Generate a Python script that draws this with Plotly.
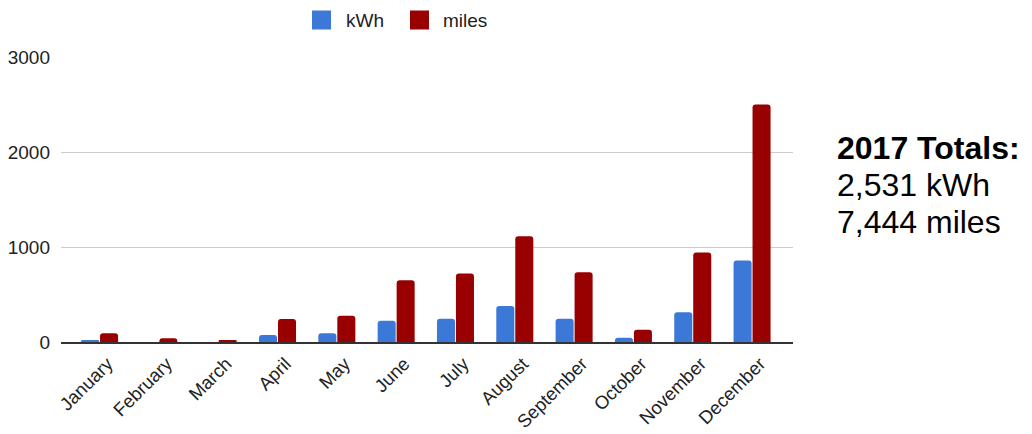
import plotly.graph_objects as go

# Monthly EV charging energy and distance driven, 2017
months = ["January", "February", "March", "April", "May", "June",
          "July", "August", "September", "October", "November", "December"]
kwh = [21, 0, 0, 74, 92, 224, 244, 380, 244, 45, 314, 858]
miles = [92, 39, 21, 242, 277, 650, 722, 1112, 735, 129, 941, 2500]

series_names = ["kWh", "miles"]
series_colors = ["#3c78d8", "#990000"]

totals_title = "2017 Totals:"
totals_lines = ["2,531 kWh", "7,444 miles"]

FONT = "Liberation Sans, Arial, sans-serif"
W, H = 1032, 434
L, R, T, B = 61, 239, 57, 92
PW, PH = W - L - R, H - T - B


def px(x):
    return (x - L) / PW


def py(y):
    return (H - B - y) / PH


fig = go.Figure()
for name, vals, col in zip(series_names, [kwh, miles], series_colors):
    fig.add_trace(go.Bar(
        x=months, y=vals, name=name,
        marker=dict(color=col, line=dict(width=0), cornerradius=3),
        showlegend=False,
    ))

# Legend drawn as swatches + labels above the plot
legend_items = [(312, 345, series_names[0], series_colors[0]),
                (410, 442, series_names[1], series_colors[1])]
shapes = []
annotations = []
for sx, tx, label, col in legend_items:
    shapes.append(dict(type="rect", xref="paper", yref="paper",
                       x0=px(sx), x1=px(sx + 19), y0=py(29.5), y1=py(10.5),
                       fillcolor=col, line=dict(width=0), layer="above"))
    annotations.append(dict(text=label, xref="paper", yref="paper",
                            x=px(tx - 1), y=py(20), xanchor="left", yanchor="middle",
                            showarrow=False, font=dict(family=FONT, size=19, color="#222222")))

# Totals block to the right of the chart
annotations.append(dict(text="<b>" + totals_title + "</b>", xref="paper", yref="paper",
                        x=px(835), y=py(148), xanchor="left", yanchor="middle",
                        showarrow=False, font=dict(family=FONT, size=32, color="#000000")))
for i, line in enumerate(totals_lines):
    annotations.append(dict(text=line, xref="paper", yref="paper",
                            x=px(835), y=py(185 + 37 * i), xanchor="left", yanchor="middle",
                            showarrow=False, font=dict(family=FONT, size=32, color="#000000")))

fig.update_layout(
    width=W, height=H,
    margin=dict(l=L, r=R, t=T, b=B, pad=0, autoexpand=False),
    paper_bgcolor="white", plot_bgcolor="white",
    barmode="group", bargap=0.36, bargroupgap=0.05,
    font=dict(family=FONT, size=19, color="#222222"),
    shapes=shapes, annotations=annotations,
    xaxis=dict(range=[-0.65, 11.69], tickangle=-45, showgrid=False, automargin=False,
               showline=True, linecolor="#333333", linewidth=1.5,
               ticks="", ticklabelstandoff=2, ticklabelshift=8,
               tickfont=dict(family=FONT, size=18.5, color="#222222")),
    yaxis=dict(range=[0, 3000], tickvals=[0, 1000, 2000, 3000], automargin=False,
               showgrid=True, gridcolor="#cccccc", gridwidth=1,
               zeroline=False, ticks="", ticklabelstandoff=10,
               tickfont=dict(family=FONT, size=19, color="#222222")),
)

fig.write_html("out.html")
